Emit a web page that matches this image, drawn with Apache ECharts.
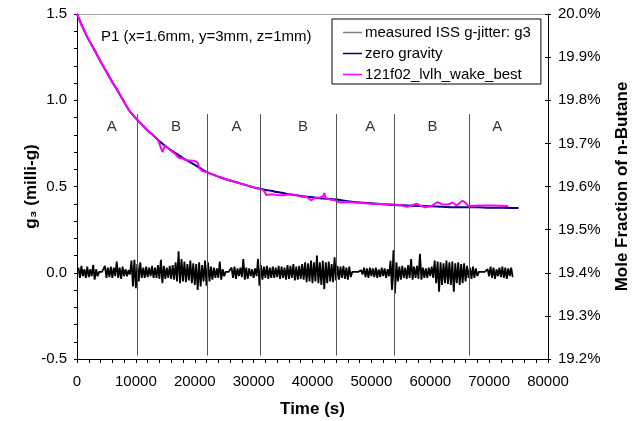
<!DOCTYPE html>
<html>
<head>
<meta charset="utf-8">
<script src="https://cdn.jsdelivr.net/npm/echarts@6/dist/echarts.min.js"></script>
<style>
  html, body { margin: 0; padding: 0; background: #fff; }
  #chart { width: 633px; height: 421px; }
</style>
</head>
<body>
<div id="chart"></div>
<script>
// Zero-gravity prediction: time (s) and n-butane mole fraction (%)
const zeroTime = [0, 1000, 2000, 3000, 4000, 5000, 6000, 7000, 8000, 9000,
  10000, 11000, 12000, 13000, 14000, 15000, 16000, 17000, 18000, 19000,
  20000, 21000, 22000, 23000, 24000, 25000, 26000, 27000, 28000, 29000,
  30000, 31000, 32000, 33000, 34000, 35000, 36000, 37000, 38000, 39000,
  40000, 42000, 44000, 46000, 48000, 50000, 52000, 54000, 56000, 58000,
  60000, 62000, 64000, 66000, 68000, 70000, 72000, 75000];
const zeroMole = [20.000, 19.968, 19.940, 19.916, 19.890, 19.866, 19.842, 19.820, 19.796, 19.774,
  19.758, 19.744, 19.730, 19.718, 19.705, 19.694, 19.684, 19.675, 19.666, 19.658,
  19.650, 19.642, 19.634, 19.628, 19.623, 19.618, 19.614, 19.610, 19.606, 19.602,
  19.598, 19.595, 19.592, 19.590, 19.587, 19.585, 19.582, 19.580, 19.578, 19.576,
  19.575, 19.572, 19.570, 19.566, 19.563, 19.561, 19.559, 19.557, 19.556, 19.555,
  19.554, 19.553, 19.552, 19.552, 19.552, 19.551, 19.551, 19.550];

// 121f02_lvlh_wake_best run: time (s) and mole fraction (%)
const wakeTime = [0, 1000, 2000, 3000, 4000, 5000, 6000, 7000, 8000, 9000,
  10000, 11000, 12000, 13000, 13800, 14500, 14950, 15800, 16650, 17050,
  17400, 17800, 18350, 18900, 19200, 19500, 20050, 20450, 20900, 21450,
  22000, 22300, 22700, 24000, 26000, 28000, 30000, 31650, 32200, 33050,
  34200, 35350, 36450, 37300, 38150, 39000, 39750, 40400, 41250, 41850,
  42000, 42250, 42950, 43800, 44400, 44850, 45500, 47200, 50050, 52300,
  54000, 55150, 56000, 56850, 57700, 58250, 59100, 60250, 61250, 61950,
  62800, 63350, 63800, 64500, 65450, 65900, 66450, 68150, 70450, 73250];
const wakeMole = [20.000, 19.968, 19.940, 19.916, 19.890, 19.866, 19.842, 19.820, 19.796, 19.774,
  19.758, 19.744, 19.730, 19.718, 19.707, 19.680, 19.695, 19.685, 19.676, 19.669,
  19.666, 19.666, 19.662, 19.661, 19.663, 19.660, 19.659, 19.656, 19.640, 19.635,
  19.634, 19.636, 19.630, 19.623, 19.614, 19.606, 19.598, 19.592, 19.580, 19.582,
  19.580, 19.580, 19.582, 19.580, 19.576, 19.576, 19.568, 19.574, 19.574, 19.578,
  19.585, 19.573, 19.570, 19.568, 19.564, 19.563, 19.564, 19.563, 19.560, 19.559,
  19.558, 19.556, 19.553, 19.556, 19.560, 19.556, 19.552, 19.555, 19.564, 19.559,
  19.558, 19.560, 19.563, 19.556, 19.567, 19.563, 19.555, 19.556, 19.556, 19.555];

// Measured g3 jitter (milli-g): upper and lower excursion in each 500 s window
const jitterStart = 250;
const jitterStep = 500;
const jitterHigh = [
  0.03, 0.04, 0.02, 0.035, 0.02, 0.045, 0.02, 0.005, 0.005, 0.04,
  0.03, 0.035, 0.03, 0.065, 0.03, 0.035, 0.02, 0.015, 0.07, 0.075,
  0.05, 0.06, 0.03, 0.035, 0.03, 0.04, 0.03, 0.045, 0.075, 0.04,
  0.03, 0.04, 0.045, 0.06, 0.125, 0.08, 0.065, 0.05, 0.07, 0.055,
  0.05, 0.06, 0.045, 0.07, 0.06, 0.035, 0.03, 0.025, 0.065, 0.02,
  0.005, 0.005, 0.03, 0.035, 0.025, 0.03, 0.08, 0.03, 0.025, 0.02,
  0.025, 0.08, 0.045, 0.035, 0.04, 0.03, 0.035, 0.03, 0.04, 0.035,
  0.03, 0.045, 0.04, 0.05, 0.035, 0.04, 0.05, 0.06, 0.055, 0.07,
  0.06, 0.1, 0.06, 0.07, 0.06, 0.065, 0.05, 0.09, 0.04, 0.035,
  0.04, 0.03, 0.035, 0.005, 0.005, 0.005, 0.015, 0.03, 0.025, 0.03,
  0.025, 0.03, 0.02, 0.03, 0.025, 0.02, 0.07, 0.13, 0.06, 0.035,
  0.04, 0.03, 0.045, 0.08, 0.035, 0.04, 0.11, 0.03, 0.025, 0.03,
  0.035, 0.07, 0.065, 0.06, 0.055, 0.07, 0.06, 0.065, 0.055, 0.06,
  0.05, 0.055, 0.04, 0.03, 0.035, 0.025, 0.005, 0.005, 0.005, 0.02,
  0.035, 0.03, 0.02, 0.03, 0.035, 0.03, 0.025, 0.03];
const jitterLow = [
  -0.03, -0.02, -0.03, -0.025, -0.02, -0.04, -0.02, -0.005, -0.005, -0.03,
  -0.025, -0.03, -0.02, -0.03, -0.035, -0.02, -0.02, -0.01, -0.08, -0.09,
  -0.05, -0.03, -0.03, -0.025, -0.02, -0.03, -0.03, -0.035, -0.06, -0.035,
  -0.03, -0.035, -0.04, -0.05, -0.06, -0.05, -0.055, -0.045, -0.06, -0.07,
  -0.1, -0.08, -0.05, -0.075, -0.05, -0.04, -0.03, -0.03, -0.04, -0.02,
  -0.005, -0.005, -0.03, -0.035, -0.02, -0.025, -0.04, -0.035, -0.02, -0.03,
  -0.02, -0.075, -0.04, -0.03, -0.035, -0.03, -0.03, -0.025, -0.035, -0.03,
  -0.04, -0.035, -0.03, -0.045, -0.04, -0.035, -0.04, -0.055, -0.05, -0.06,
  -0.05, -0.06, -0.07, -0.095, -0.06, -0.05, -0.055, -0.045, -0.04, -0.03,
  -0.035, -0.04, -0.025, -0.005, -0.005, -0.005, -0.01, -0.025, -0.03, -0.02,
  -0.025, -0.03, -0.025, -0.02, -0.03, -0.02, -0.1, -0.12, -0.05, -0.04,
  -0.03, -0.035, -0.03, -0.04, -0.03, -0.035, -0.04, -0.03, -0.03, -0.02,
  -0.03, -0.06, -0.11, -0.07, -0.06, -0.065, -0.07, -0.11, -0.06, -0.07,
  -0.06, -0.05, -0.03, -0.035, -0.03, -0.02, -0.005, -0.005, -0.005, -0.02,
  -0.03, -0.035, -0.02, -0.025, -0.03, -0.035, -0.02, -0.025];

// Attitude phases: boundaries (s), label centres (s) and names
const phaseBounds = [10200, 22200, 31100, 44100, 53900, 66600];
const phaseCenters = [5900, 16800, 27100, 38400, 49800, 60400, 71400];
const phaseNames = ['A', 'B', 'A', 'B', 'A', 'B', 'A'];
const phaseLabelLevel = 0.845;
const phaseLineRange = [-0.48, 0.92];

const FONT = 'Liberation Sans, Arial, sans-serif';

const jitterData = [];
for (let k = 0; k < jitterHigh.length; k++) {
  const t = jitterStart + k * jitterStep;
  jitterData.push([t, jitterHigh[k]]);
  jitterData.push([t + jitterStep / 2, jitterLow[k]]);
}
const zeroData = zeroTime.map((t, i) => [t, zeroMole[i]]);
const wakeData = wakeTime.map((t, i) => [t, wakeMole[i]]);
const phaseData = phaseCenters.map((t, i) => ({ value: [t, phaseLabelLevel], name: phaseNames[i] }));
const phaseLines = phaseBounds.map(t => [{ coord: [t, phaseLineRange[0]] }, { coord: [t, phaseLineRange[1]] }]);

const chart = echarts.init(document.getElementById('chart'), null, { renderer: 'canvas' });

const axisText = { color: '#000', fontSize: 15, fontFamily: FONT };
const nameText = { color: '#000', fontSize: 17, fontWeight: 'bold', fontFamily: FONT };
const legendIcon = 'path://M0,0L19,0L19,1.5L0,1.5Z';

chart.setOption({
  animation: false,
  backgroundColor: '#fff',
  textStyle: { fontFamily: FONT },
  grid: { left: 77, top: 14, width: 471, height: 345, containLabel: false, outerBoundsMode: 'none' },
  legend: {
    orient: 'vertical',
    left: 332,
    top: 19,
    padding: [6, 10, 2, 11],
    itemGap: 6,
    itemWidth: 19,
    itemHeight: 15,
    borderColor: '#000',
    borderWidth: 1,
    backgroundColor: '#fff',
    selectedMode: false,
    textStyle: { color: '#000', fontSize: 15, lineHeight: 15, fontFamily: FONT, padding: [0, 0, 0, -2] },
    data: [
      { name: 'measured ISS g-jitter: g3', icon: legendIcon, itemStyle: { color: '#808080' } },
      { name: 'zero gravity', icon: legendIcon, itemStyle: { color: '#000080' } },
      { name: '121f02_lvlh_wake_best', icon: legendIcon, itemStyle: { color: '#ff00ff' } }
    ]
  },
  graphic: [
    {
      type: 'text', left: 101, top: 29, z: 10,
      style: { text: 'P1 (x=1.6mm, y=3mm, z=1mm)', fill: '#000', font: '15px ' + FONT }
    }
  ],
  xAxis: [
    {
      type: 'value', min: 0, max: 80000, interval: 10000, position: 'bottom',
      axisLine: { onZero: false, lineStyle: { color: '#000', width: 1 } },
      axisTick: { length: 4, lineStyle: { color: '#000' } },
      minorTick: { show: true, splitNumber: 5, length: 4, lineStyle: { color: '#000' } },
      splitLine: { show: false },
      minorSplitLine: { show: false },
      axisLabel: Object.assign({ margin: 15, formatter: v => String(v) }, axisText),
      name: 'Time (s)', nameLocation: 'middle', nameGap: 42, nameMoveOverlap: false, nameTextStyle: nameText
    },
    {
      type: 'value', min: 0, max: 80000, position: 'top',
      axisLine: { onZero: false, lineStyle: { color: '#a6a6a6', width: 1 } },
      axisTick: { show: false }, axisLabel: { show: false }, splitLine: { show: false }
    }
  ],
  yAxis: [
    {
      type: 'value', min: -0.5, max: 1.5, interval: 0.5, position: 'left',
      axisLine: { show: true, onZero: false, lineStyle: { color: '#000', width: 1 } },
      axisTick: { show: true, length: 3, lineStyle: { color: '#000' } },
      minorTick: { show: true, splitNumber: 5, length: 3, lineStyle: { color: '#000' } },
      splitLine: { show: false },
      minorSplitLine: { show: false },
      axisLabel: Object.assign({ margin: 10, formatter: v => v.toFixed(1) }, axisText),
      name: 'g\u2083 (milli-g)', nameLocation: 'middle', nameRotate: 90, nameGap: 37,
      nameMoveOverlap: false, nameTextStyle: nameText
    },
    {
      type: 'value', min: 19.2, max: 20.0, interval: 0.1, position: 'right',
      axisLine: { show: true, onZero: false, lineStyle: { color: '#000', width: 1 } },
      axisTick: { show: true, length: 3, lineStyle: { color: '#000' } },
      splitLine: { show: false },
      axisLabel: Object.assign({ margin: 10, formatter: v => v.toFixed(1) + '%' }, axisText),
      name: 'Mole Fraction of n-Butane', nameLocation: 'middle', nameRotate: 90, nameGap: 66,
      nameMoveOverlap: false, nameTextStyle: nameText
    },
    {
      type: 'value', min: 19.2, max: 20.0, interval: 0.1, position: 'right',
      axisLine: { show: false, onZero: false },
      axisTick: { show: true, inside: true, length: 3, lineStyle: { color: '#000' } },
      axisLabel: { show: false },
      splitLine: { show: false }
    }
  ],
  series: [
    {
      name: 'measured ISS g-jitter: g3', type: 'line', xAxisIndex: 0, yAxisIndex: 0,
      data: jitterData, symbol: 'none', silent: true, z: 2,
      lineStyle: { color: '#000', width: 1.8 }, itemStyle: { color: '#000' }
    },
    {
      name: 'zero gravity', type: 'line', xAxisIndex: 0, yAxisIndex: 1,
      data: zeroData, symbol: 'none', smooth: 0.3, silent: true, z: 3,
      lineStyle: { color: '#000080', width: 2 }, itemStyle: { color: '#000080' }
    },
    {
      name: '121f02_lvlh_wake_best', type: 'line', xAxisIndex: 0, yAxisIndex: 1,
      data: wakeData, symbol: 'none', silent: true, z: 4,
      lineStyle: { color: '#ff00ff', width: 2 }, itemStyle: { color: '#ff00ff' }
    },
    {
      name: 'phases', type: 'scatter', xAxisIndex: 0, yAxisIndex: 0,
      data: phaseData, symbolSize: 0, silent: true, z: 5,
      label: { show: true, position: 'inside', formatter: '{b}', color: '#000', fontSize: 15, fontFamily: FONT },
      markLine: {
        silent: true, symbol: ['none', 'none'], label: { show: false },
        lineStyle: { color: '#555', width: 1, type: 'solid' },
        data: phaseLines
      }
    }
  ]
});
</script>
</body>
</html>
